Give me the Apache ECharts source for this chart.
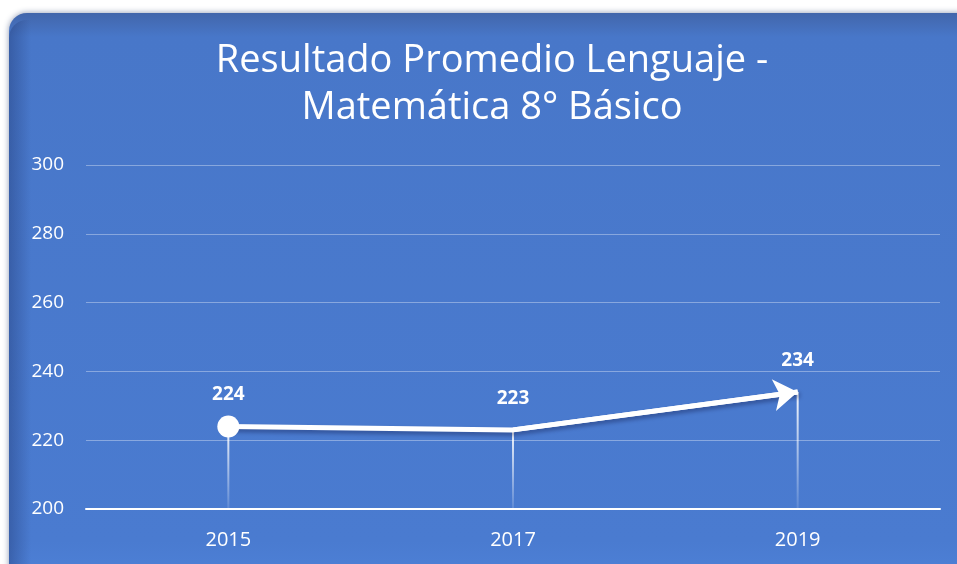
<!DOCTYPE html>
<html>
<head>
<meta charset="utf-8">
<script src="https://cdn.jsdelivr.net/npm/echarts@6/dist/echarts.min.js"></script>
<style>
  html, body { margin: 0; padding: 0; background: #ffffff; }
  #main { width: 957px; height: 564px; }
</style>
</head>
<body>
<div id="main"></div>
<script>
// datos del gráfico
const years = ['2015', '2017', '2019'];
const scores = [224, 223, 234];
const titleLines = ['Resultado Promedio Lenguaje -', 'Matemática 8° Básico'];

const chart = echarts.init(document.getElementById('main'), null, { renderer: 'canvas' });

const font = '"Open Sans", "Noto Sans", sans-serif';

const option = {
  backgroundColor: '#ffffff',
  animation: false,
  graphic: [{
    type: 'rect',
    z: -10,
    shape: { x: 9, y: 13, width: 980, height: 600, r: 18 },
    style: {
      fill: new echarts.graphic.LinearGradient(0, 0, 0, 1, [
        { offset: 0, color: '#4266ab' },
        { offset: 0.04, color: '#4877c9' },
        { offset: 0.88, color: '#4a7bd0' },
        { offset: 0.935, color: '#4d80d6' },
        { offset: 1, color: '#8fb6f5' }
      ]),
      shadowBlur: 6,
      shadowColor: 'rgba(30,50,100,0.5)'
    }
  }, {
    // sombra del borde izquierdo
    type: 'rect',
    z: -9,
    shape: { x: 9, y: 20, width: 22, height: 560, r: [18, 0, 0, 0] },
    style: {
      fill: new echarts.graphic.LinearGradient(0, 0, 1, 0, [
        { offset: 0, color: 'rgba(25,45,100,0.35)' },
        { offset: 1, color: 'rgba(25,45,100,0)' }
      ])
    }
  }],
  title: {
    text: titleLines.join('\n'),
    left: 487,
    top: 33,
    textAlign: 'center',
    textStyle: {
      color: '#ffffff',
      fontFamily: font,
      fontSize: 38,
      fontWeight: 'normal',
      lineHeight: 47
    }
  },
  grid: { left: 86, right: 17, top: 165, bottom: 55 },
  xAxis: {
    type: 'category',
    data: years,
    boundaryGap: true,
    axisLine: { lineStyle: { color: '#ffffff', width: 2 } },
    axisTick: { show: false },
    axisLabel: { color: '#ffffff', fontSize: 20, fontFamily: font, margin: 21 }
  },
  yAxis: {
    type: 'value',
    min: 200,
    max: 300,
    interval: 20,
    axisLine: { show: false },
    axisTick: { show: false },
    splitLine: { lineStyle: { color: 'rgba(255,255,255,0.35)', width: 1 } },
    axisLabel: { color: '#ffffff', fontSize: 19, fontFamily: font, margin: 22 }
  },
  series: [
    {
      // líneas verticales hasta el eje
      type: 'custom',
      z: 1,
      data: scores.map((v, i) => [i, v]),
      renderItem: (params, api) => {
        const top = api.coord([api.value(0), api.value(1)]);
        const bottom = api.coord([api.value(0), 200]);
        return {
          type: 'line',
          shape: { x1: top[0], y1: top[1], x2: bottom[0], y2: bottom[1] },
          style: {
            lineWidth: 2,
            stroke: new echarts.graphic.LinearGradient(0, 0, 0, 1, [
              { offset: 0, color: 'rgba(255,255,255,0.95)' },
              { offset: 1, color: 'rgba(255,255,255,0.1)' }
            ], false)
          }
        };
      }
    },
    {
      type: 'line',
      z: 3,
      data: scores.map((v, i) => ({
        value: v,
        symbolSize: i === 0 ? 22 : 1,
        label: { distance: i === 0 ? 11 : 21 }
      })),
      symbol: 'circle',
      showAllSymbol: true,
      lineStyle: {
        color: '#ffffff', width: 5,
        shadowBlur: 4, shadowColor: 'rgba(0,0,40,0.35)', shadowOffsetX: 2, shadowOffsetY: 3
      },
      itemStyle: { color: '#ffffff', opacity: 1 },
      label: {
        show: true,
        position: 'top',
        color: '#ffffff',
        fontSize: 19,
        fontWeight: 'bold',
        fontFamily: font
      }
    },
    {
      // punta de flecha en el último tramo
      type: 'lines',
      coordinateSystem: 'cartesian2d',
      z: 4,
      symbol: ['none', 'arrow'],
      symbolSize: 24,
      lineStyle: { color: '#ffffff', width: 5, opacity: 1 },
      data: [{
        coords: [[1, scores[1]], [2, scores[2]]]
      }]
    }
  ]
};

chart.setOption(option);
</script>
</body>
</html>
